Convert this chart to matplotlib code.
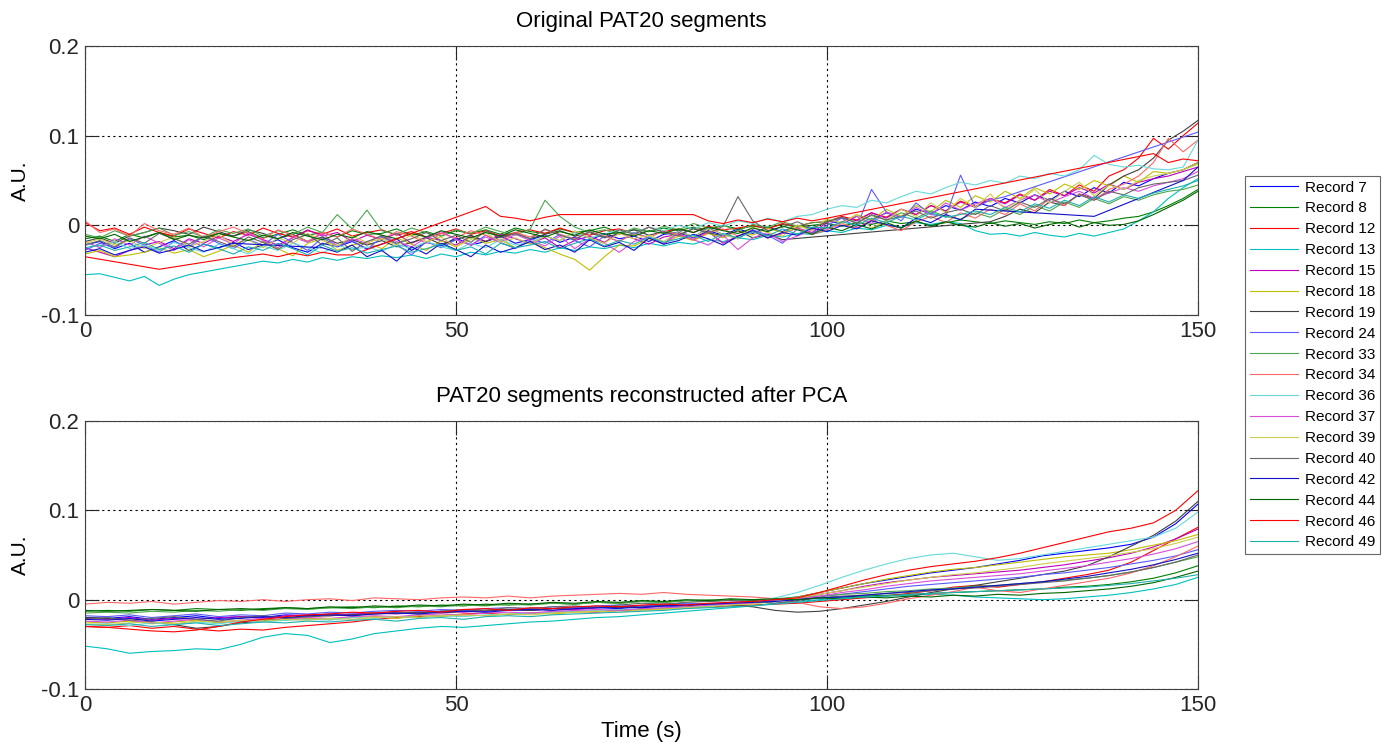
import numpy as np
import matplotlib
matplotlib.use("Agg")
import matplotlib.pyplot as plt

plt.rcParams['font.family'] = ['Liberation Sans', 'DejaVu Sans']

# values are stored in thousandths of A.U.; None marks samples missing from a record
SCALE = 1e-3

# original segments, one sample every 2 s (0..150 s)
t_orig = np.arange(0, 151, 2)
# reconstructed segments, one sample every 3 s (0..150 s)
t_pca = np.arange(0, 151, 3)

rec7_orig = [-22, -18, -26, -20, -30, -24, -17, -28, -21, -25,
             -19, -27, -22, -16, -25, -30, -20, -24, -18, -26,
             -21, -15, -28, -19, -23, -14, -22, -18, -12, -20,
             -16, -11, -19, -13, -17, -9, -15, -12, -18, -10,
             -8, -14, -6, -11, -4, -9, -2, -7, 0, -4,
             5, 2, 10, 6, 14, 9, 18, 13, 22, 17,
             26, 21, 30, 25, 34, 28, 38, 32, 42, 36,
             48, 44, 52, 58, 62, 70]
rec8_orig = [-15, -12, -18, -10, -14, -8, -13, -11, -16, -9,
             -12, -7, -14, -10, -5, -11, -8, -13, -6, -10,
             -9, -4, -11, -7, -12, -6, -9, -5, -10, -3,
             -7, -9, -4, -8, -6, -2, -8, -5, -7, -3,
             -6, -2, -5, 0, -4, -1, -3, 1, -2, 0,
             2, -1, 3, 1, 5, 2, 4, 0, 3, 6,
             4, 2, 5, 3, 1, 4, 2, 6, 3, 5,
             8, 10, 15, 22, 30, 40]
rec12_orig = [3, -6, -3, -10, -2, -8, -12, -4, -9, -14,
              -7, -11, -3, -9, -13, -6, -10, -4, -12, -8,
              -5, -11, -7, -13, -9, -4, -10, -6, -12, -8,
              -5, -9, -3, -8, -11, -6, -4, -9, -2, -7,
              -4, -8, -1, -5, -3, 0, -4, 2, -1, 3,
              4, 10, 6, 14, 9, 18, 12, 22, 16, 27,
              21, 30, 25, 35, 28, 40, 33, 45, 38, 55,
              62, 75, 97, 85, 100, 114]
rec13_orig = [-55, -54, -58, -62, -57, -67, -60, -55, -52, -49,
              -46, -43, -40, -42, -38, -41, -36, -39, -35, -37,
              -34, -36, -33, -37, -32, -35, -30, -33, -29, -31,
              -27, -30, -25, -28, -24, -26, -22, -25, -20, -23,
              -19, -21, -16, -18, -14, -16, -11, -13, -9, -10,
              -6, -8, -3, -5, 0, -2, 3, 1, 4, 2,
              -6, -10, -9, -12, -8, -11, -13, -9, -12, -8,
              -4, 5, 15, 30, 42, 52]
rec15_orig = [-25, -30, -35, -28, -22, -18, -26, -15, -20, -12,
              -18, -10, -16, -22, -14, -5, -12, -8, -18, -11,
              -16, -9, -20, -13, -17, -22, -12, -18, -10, -15,
              -20, -14, -25, -17, -12, -19, -8, -15, -21, -13,
              -10, -16, -7, -20, -12, -5, -14, -9, -3, -8,
              3, 9, 5, 14, 8, 18, 12, 22, 16, 26,
              20, 30, 24, 34, 28, 38, 33, 42, 36, 46,
              40, 48, 52, 55, 60, 65]
rec18_orig = [-32, -28, -35, -33, -30, -25, -31, -27, -35, -29,
              -22, -30, -18, -26, -34, -20, -15, -28, -22, -19,
              -26, -14, -21, -28, -17, -24, -13, -20, -16, -25,
              -18, -25, -32, -38, -50, -35, -22, -23, -15, -20,
              -12, -17, -9, -14, -6, -11, -3, -8, 0, -5,
              6, 3, 12, 6, 18, 10, 22, 15, 28, 20,
              33, 26, 38, 30, 42, 35, 46, 40, 50, 44,
              55, 48, 60, 58, 62, 70]
rec19_orig = [-18, -14, -20, -12, -8, -3, -6, -10, -2, -7,
              -12, -5, -9, -15, -10, -18, -13, -20, -16, -22,
              -17, -24, -19, -14, -21, -16, -11, -18, -13, -9,
              -15, -10, -6, -12, -8, -14, -9, -5, -11, -7,
              -10, -4, -8, -12, -6, -14, -10, -16, None, None,
              None, None, None, None, None, None, None, None, None, None,
              None, 4, 10, 18, 14, 26, 22, 35, 30, 45,
              55, 62, 75, 95, 105, 117]
rec24_orig = [-28, -20, -25, -15, -22, -30, -18, -24, -12, -20,
              -26, -16, -22, -10, -19, -28, -14, -23, -17, -27,
              -13, -21, -33, -18, -25, -16, -22, -11, -19, -26,
              -15, -20, -10, -17, -24, -12, -18, -8, -14, -21,
              -6, -13, -3, -10, -15, -5, -11, -20, -4, -9,
              0, 8, -2, 40, 15, 5, 25, 12, 10, 56,
              20, 28, 32, None, None, None, None, None, None, None,
              None, None, None, None, None, 104]
rec33_orig = [-10, -14, -6, -12, -8, -3, -11, -7, -13, -5,
              -9, -4, -12, -6, -10, -2, -8, 12, -4, 17,
              -6, -10, -3, -8, -12, -5, -9, -2, -7, -11,
              -4, 28, 10, -2, -8, -5, -10, -3, -7, -1,
              -5, 2, -3, 0, -6, 1, -2, 4, -1, 3,
              4, 9, 3, 11, 6, 14, 8, 16, 10, 7,
              14, 9, 18, 12, 22, 16, 26, 20, 30, 24,
              32, 28, 34, 38, 40, 45]
rec34_orig = [5, -8, -4, -12, 2, -6, -10, -3, -14, -7,
              -2, -9, -15, -5, -11, -18, -8, -13, -4, -10,
              -16, -7, -12, -20, -9, -14, -6, -11, -17, -8,
              -13, -5, -10, -15, -7, -12, -18, -9, -14, -6,
              -11, -16, -8, -4, -12, -7, -14, -9, -3, -10,
              -5, 2, -3, 6, 0, -6, 4, 10, 3, 14,
              8, 18, 12, 24, 16, 30, 22, 35, 28, 40,
              46, 55, 70, 97, 82, 95]
rec36_orig = [-20, -24, -18, -26, -22, -28, -19, -25, -30, -21,
              -26, -32, -23, -28, -20, -25, -31, -22, -27, -24,
              -29, -21, -26, -18, -24, -28, -20, -25, -16, -22,
              -19, -12, -17, -8, -14, -10, -5, -9, -2, -6,
              0, -4, 3, -1, 5, 2, 8, 4, 10, 12,
              18, 22, 20, 28, 25, 32, 38, 35, 42, 48,
              45, 50, 47, 55, 52, 58, 55, 62, 78, 68,
              65, 67, 63, 62, 65, 95]
rec37_orig = [-18, -25, -15, -22, -12, -20, -28, -16, -24, -14,
              -21, -8, -17, -25, -13, -19, -9, -23, -15, -20,
              -11, -18, -24, -14, -7, -16, -22, -13, -19, -10,
              -17, -23, -12, -26, -15, -20, -30, -18, -13, -21,
              -9, -16, -22, -11, -27, -14, -8, -18, -12, -5,
              -4, 4, 10, 2, 15, 9, 20, 12, 25, 17,
              24, 30, 20, 28, 34, 25, 32, 38, 30, 36,
              42, 38, 44, 48, 52, 60]
rec39_orig = [-20, -15, -22, -17, -26, -19, -13, -24, -18, -11,
              -21, -16, -25, -14, -20, -9, -17, -23, -12, -19,
              -15, -22, -10, -18, -13, -24, -16, -8, -19, -14,
              -21, -12, -17, -6, -14, -20, -9, -15, -11, -18,
              -7, -13, -4, -10, -15, -2, -8, -12, 0, -6,
              8, 2, 12, -3, 5, 18, 10, 25, 14, 30,
              20, 35, 18, 28, 40, 25, 38, 48, 33, 45,
              40, 50, 55, 58, 62, 68]
rec40_orig = [-22, -17, -24, -14, -20, -9, -15, -21, -12, -18,
              -24, -13, -19, -27, -16, -10, -22, -14, -29, -18,
              -12, -20, -15, -8, -17, -11, -19, -6, -14, -9,
              -15, -4, -11, -16, -7, -13, -5, -10, -2, -8,
              -12, -3, -9, -1, 32, 5, -6, -2, 4, -3,
              4, 9, 2, 12, 6, 10, 16, 8, 14, 18,
              12, 22, 16, 26, 20, 30, 24, 34, 28, 38,
              34, 42, 46, 48, 50, 56]
rec42_orig = [-30, -26, -33, -28, -24, -31, -27, -22, -29, -25,
              -20, None, None, None, None, None, -25, -30, -22, -35,
              -28, -40, -24, -32, -20, -27, -35, -22, -30, -25,
              -18, -27, -22, -30, -16, -24, -19, -28, -14, -21,
              -17, -10, -15, -22, -12, -6, -14, -8, -11, -3,
              -7, 0, -4, 5, 1, -3, 8, 3, 12, 6,
              18, None, None, None, None, None, None, None, 10, None,
              None, None, None, None, 50, 65]
rec44_orig = [-12, -15, -10, -18, -13, -8, -16, -11, -14, -9,
              -13, -17, -11, -15, -8, -12, -16, -10, -14, -7,
              -11, -15, -9, -13, -6, -10, -14, -8, -12, -5,
              -9, -13, -7, -11, -5, -10, -8, -12, -6, -9,
              -4, -8, -2, -6, -9, -3, -7, -1, -5, -10,
              -2, -6, 1, -4, 3, -3, 5, -1, 4, 0,
              -2, 3, -1, 2, -3, 1, 4, -2, 3, 0,
              1, 5, 12, 20, 28, 38]
rec46_orig = [-35, None, None, None, None, -49, None, None, None, None,
              -36, -34, -32, -35, -31, -34, -30, -33, -33, None,
              None, None, None, None, None, None, None, 21, 10, 8,
              5, 9, 12, None, None, None, None, None, None, None,
              None, 12, 5, 2, 6, 3, 7, 4, 8, 5,
              8, None, None, None, None, None, None, None, None, None,
              None, None, None, None, None, None, None, None, None, None,
              None, None, 80, 70, 74, 72]
rec49_orig = [-25, -22, -28, -24, -19, -27, -23, -30, -21, -26,
              -32, -24, -28, -20, -26, -33, -22, -29, -25, -31,
              -27, -23, -30, -26, -21, -28, -24, -32, -20, -25,
              -22, -18, -26, -20, -15, -23, -17, -21, -13, -19,
              -15, -11, -18, -9, -14, -7, -12, -4, -10, -2,
              -3, 4, 0, 8, 3, 10, 6, 14, 9, 12,
              16, 12, 20, 15, 24, 19, 28, 22, 32, 26,
              34, 30, 36, 40, 44, 50]

rec7_pca = [-20, -21, -19, -22, -20, -18, -21, -19, -20, -17,
            -18, -16, -17, -15, -14, -15, -13, -12, -13, -11,
            -12, -10, -11, -9, -10, -8, -7, -8, -6, -5,
            -3, 0, 3, 8, 13, 18, 22, 26, 30, 33,
            36, 40, 44, 49, 52, 55, 58, 62, 70, 85,
            107]
rec8_pca = [-13, -12, -13, -11, -12, -10, -11, -12, -10, -9,
            -10, -9, -8, -9, -7, -8, -6, -7, -5, -6,
            -5, -4, -5, -3, -4, -2, -3, -1, -2, 0,
            -1, 0, 1, 2, 3, 4, 5, 6, 7, 8,
            9, 10, 11, 12, 14, 15, 17, 20, 24, 30,
            38]
rec12_pca = [-30, -31, -29, -32, -30, -33, -35, -33, -34, -31,
             -29, -27, -25, -22, -20, -19, -18, -16, -15, -17,
             -15, -14, -13, -14, -12, -11, -10, -9, -8, -7,
             -6, -5, -4, -2, 0, 2, 4, 7, 10, 14,
             16, 14, 17, 20, 24, 28, 33, 42, 55, 68,
             81]
rec13_pca = [-52, -55, -60, -58, -57, -55, -56, -50, -42, -38,
             -40, -48, -44, -38, -35, -32, -30, -31, -29, -27,
             -25, -24, -22, -20, -19, -17, -15, -13, -11, -9,
             -7, -4, -2, 0, 2, 3, 4, 5, 6, 5,
             3, 2, 1, 0, 1, 3, 5, 8, 12, 17,
             25]
rec15_pca = [-21, -22, -20, -23, -21, -22, -20, -19, -21, -18,
             -17, -18, -16, -15, -16, -14, -13, -14, -12, -11,
             -12, -10, -11, -9, -8, -9, -7, -6, -5, -4,
             -3, -1, 2, 6, 10, 15, 19, 22, 25, 27,
             29, 31, 33, 36, 39, 43, 47, 52, 59, 68,
             79]
rec18_pca = [-25, -26, -24, -27, -25, -23, -26, -24, -22, -23,
             -21, -22, -20, -19, -21, -18, -19, -17, -18, -16,
             -15, -16, -14, -13, -12, -11, -10, -9, -7, -6,
             -4, -1, 3, 8, 13, 18, 23, 27, 31, 34,
             36, 39, 42, 45, 48, 50, 52, 56, 61, 66,
             73]
rec19_pca = [-20, -21, -23, -25, -28, -32, -30, -26, -24, -21,
             -19, -18, -17, -16, -15, -14, -15, -13, -12, -11,
             -12, -10, -9, -8, -9, -7, -6, -7, -5, -6,
             -8, -12, -14, -13, -10, -6, -2, 3, 8, 12,
             16, 20, 24, 28, 32, 38, 48, 60, 72, 88,
             110]
rec24_pca = [-18, -19, -17, -20, -18, -16, -19, -17, -18, -15,
             -16, -14, -15, -13, -12, -13, -11, -12, -10, -9,
             -10, -8, -9, -7, -6, -7, -5, -4, -5, -3,
             -2, -1, 1, 3, 6, 9, 12, 15, 17, 19,
             21, 23, 25, 28, 30, 33, 36, 40, 44, 49,
             56]
rec33_pca = [-15, -14, -15, -13, -14, -12, -13, -11, -12, -10,
             -11, -9, -10, -8, -9, -7, -8, -6, -7, -5,
             -6, -4, -5, -3, -4, -2, -3, -1, 0, -1,
             0, 1, 3, 4, 6, 7, 9, 10, 12, 13,
             15, 16, 18, 20, 22, 24, 27, 31, 36, 42,
             48]
rec34_pca = [-5, -3, -4, -2, -5, -3, -1, -2, 0, -2,
             0, 1, -1, 2, 1, 0, 2, 3, 2, 4,
             2, 4, 5, 6, 7, 6, 8, 6, 5, 4,
             3, 1, -3, -8, -10, -8, -4, 1, 5, 9,
             14, 10, 8, 12, 16, 20, 24, 30, 38, 48,
             60]
rec36_pca = [-28, -27, -29, -26, -28, -25, -27, -24, -25, -23,
             -22, -23, -20, -21, -19, -20, -18, -19, -17, -16,
             -15, -14, -13, -12, -11, -10, -9, -8, -7, -5,
             -3, 2, 8, 16, 25, 33, 40, 46, 50, 52,
             48, 44, 46, 50, 54, 58, 62, 66, 70, 80,
             98]
rec37_pca = [-24, -25, -23, -26, -24, -22, -25, -23, -21, -22,
             -20, -21, -19, -18, -19, -17, -16, -17, -15, -14,
             -15, -13, -12, -11, -12, -10, -9, -8, -6, -5,
             -4, -2, 1, 4, 8, 11, 15, 18, 21, 23,
             25, 27, 29, 32, 35, 38, 42, 46, 51, 57,
             65]
rec39_pca = [-27, -28, -26, -25, -27, -24, -25, -23, -24, -22,
             -23, -21, -22, -20, -19, -20, -18, -17, -18, -16,
             -17, -15, -14, -13, -14, -12, -11, -9, -8, -6,
             -5, -2, 2, 6, 10, 14, 18, 22, 25, 28,
             30, 33, 36, 40, 43, 46, 49, 53, 57, 63,
             70]
rec40_pca = [-22, -20, -23, -21, -19, -22, -24, -20, -18, -21,
             -19, -17, -18, -15, -14, -16, -13, -11, -12, -9,
             -10, -8, -7, -9, -6, -4, -5, -3, -2, -1,
             -2, -4, -1, 2, 4, 5, 7, 8, 10, 12,
             13, 15, 17, 19, 21, 24, 27, 31, 36, 42,
             50]
rec42_pca = [-22, -23, -21, -24, -22, -20, -22, -21, -19, -20,
             -18, -17, -18, -16, -15, -16, -14, -13, -14, -12,
             -11, -12, -10, -9, -8, -9, -7, -6, -5, -4,
             -3, -2, 0, 2, 3, 5, 7, 9, 11, 12,
             14, 16, 18, 20, 23, 26, 30, 34, 39, 45,
             52]
rec44_pca = [-12, -13, -12, -11, -12, -13, -11, -10, -11, -9,
             -10, -8, -9, -7, -8, -6, -7, -5, -6, -4,
             -5, -3, -4, -2, -3, -1, -2, 0, -1, 1,
             0, 1, 0, 2, 1, 3, 2, 4, 3, 5,
             4, 6, 5, 7, 8, 10, 12, 15, 19, 25,
             32]
rec46_pca = [-30, -31, -33, -35, -36, -34, -30, -25, -22, -19,
             -17, -16, -14, -15, -13, -12, -14, -11, -10, -12,
             -9, -10, -8, -7, -8, -6, -5, -6, -4, -3,
             -2, 0, 2, 8, 15, 22, 28, 33, 37, 40,
             43, 47, 52, 58, 64, 70, 76, 80, 86, 100,
             122]
rec49_pca = [-28, -29, -27, -30, -28, -26, -29, -27, -25, -26,
             -24, -25, -23, -22, -24, -21, -20, -22, -19, -18,
             -19, -17, -16, -15, -14, -13, -12, -10, -9, -8,
             -7, -5, -3, -1, 1, 3, 4, 6, 7, 8,
             9, 10, 11, 12, 13, 14, 16, 18, 21, 24,
             28]

labels = ['Record 7', 'Record 8', 'Record 12', 'Record 13', 'Record 15',
          'Record 18', 'Record 19', 'Record 24', 'Record 33', 'Record 34',
          'Record 36', 'Record 37', 'Record 39', 'Record 40', 'Record 42',
          'Record 44', 'Record 46', 'Record 49']
colors = ['#0000ff', '#008000', '#ff0000', '#00bfbf', '#bf00bf',
          '#bfbf00', '#404040', '#5a5aff', '#4da64d', '#ff6666',
          '#66d9d9', '#d94dd9', '#cccc4d', '#666666', '#1010c8',
          '#006400', '#ff0000', '#1fb0b0']
orig_series = [rec7_orig, rec8_orig, rec12_orig, rec13_orig, rec15_orig,
               rec18_orig, rec19_orig, rec24_orig, rec33_orig, rec34_orig,
               rec36_orig, rec37_orig, rec39_orig, rec40_orig, rec42_orig,
               rec44_orig, rec46_orig, rec49_orig]
pca_series = [rec7_pca, rec8_pca, rec12_pca, rec13_pca, rec15_pca,
              rec18_pca, rec19_pca, rec24_pca, rec33_pca, rec34_pca,
              rec36_pca, rec37_pca, rec39_pca, rec40_pca, rec42_pca,
              rec44_pca, rec46_pca, rec49_pca]


def draw_series(ax, t, vals, color, label):
    y = np.array([np.nan if v is None else v for v in vals], dtype=float) * SCALE
    ok = ~np.isnan(y)
    return ax.plot(t[ok], y[ok], color=color, lw=0.8, label=label)[0]


def style_axes(ax):
    ax.set_xlim(0, 150)
    ax.set_ylim(-0.1, 0.2)
    ax.set_xticks([0, 50, 100, 150])
    ax.set_yticks([-0.1, 0, 0.1, 0.2])
    ax.set_yticklabels(['-0.1', '0', '0.1', '0.2'])
    ax.grid(True, color='black', linestyle=(0, (2, 3)), linewidth=0.8)
    ax.tick_params(direction='in', length=10, width=0.8, top=True, right=True,
                   labelsize=16, pad=4, colors='#262626')
    for sp in ax.spines.values():
        sp.set_color('#404040')
        sp.set_linewidth(0.8)
    ax.set_ylabel('A.U.', fontsize=15, labelpad=8)


fig = plt.figure(figsize=(13.92, 7.49), dpi=100)
ax1 = fig.add_axes([85 / 1392, 1 - 315 / 749, 1113 / 1392, 269 / 749])
ax2 = fig.add_axes([85 / 1392, 1 - 689 / 749, 1113 / 1392, 268 / 749])

handles = []
for vals, c, lab in zip(orig_series, colors, labels):
    handles.append(draw_series(ax1, t_orig, vals, c, lab))
for vals, c, lab in zip(pca_series, colors, labels):
    draw_series(ax2, t_pca, vals, c, lab)

style_axes(ax1)
style_axes(ax2)
ax1.set_title('Original PAT20 segments', fontsize=16, pad=14)
ax2.set_title('PAT20 segments reconstructed after PCA', fontsize=16, pad=14)
ax2.set_xlabel('Time (s)', fontsize=16, labelpad=4)

leg = fig.legend(handles, labels, loc='upper left',
                 bbox_to_anchor=(1245 / 1392, 1 - 176 / 749),
                 fontsize=11, frameon=True, fancybox=False, borderaxespad=0,
                 handlelength=3.2, labelspacing=0.45, borderpad=0.3,
                 handletextpad=0.4)
leg.get_frame().set_edgecolor('#404040')
leg.get_frame().set_linewidth(0.8)

fig.savefig('out.png', dpi=100)
